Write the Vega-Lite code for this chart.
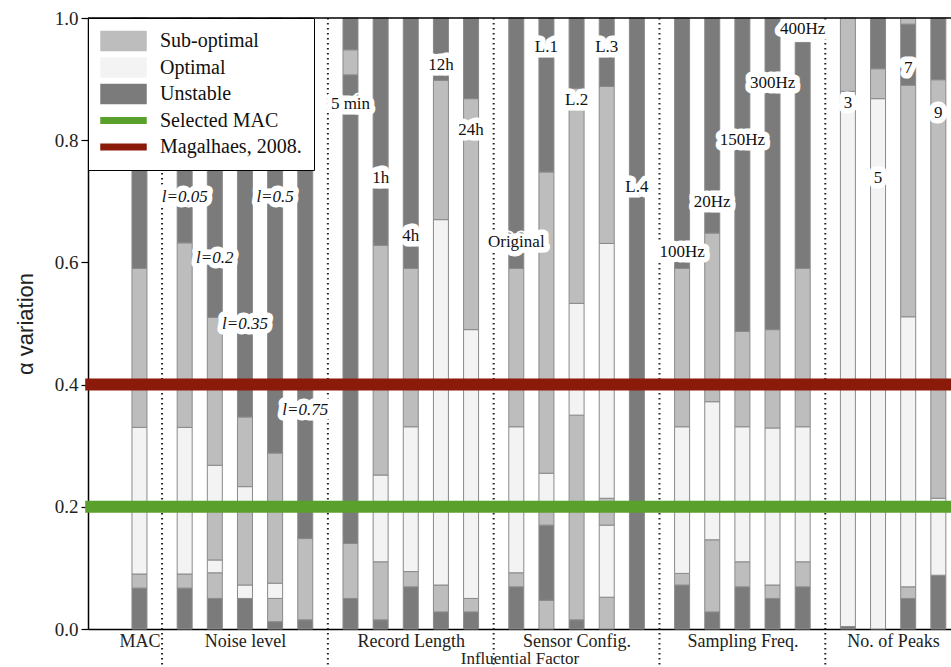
{
  "$schema": "https://vega.github.io/schema/vega-lite/v6.json",
  "width": 863,
  "height": 611,
  "autosize": {"type": "none"},
  "padding": {"left": 88, "top": 18, "right": 0, "bottom": 38},
  "background": "white",
  "config": {"view": {"stroke": null}, "font": "Liberation Serif"},
  "datasets": {
    "bars": [
      {"x": 0, "s": "Unstable", "a": 0, "b": 0.067}, {"x": 0, "s": "Sub-optimal", "a": 0.067, "b": 0.09}, {"x": 0, "s": "Optimal", "a": 0.09, "b": 0.33}, {"x": 0, "s": "Sub-optimal", "a": 0.33, "b": 0.59}, {"x": 0, "s": "Unstable", "a": 0.59, "b": 1.0},
      {"x": 1.5, "s": "Unstable", "a": 0, "b": 0.067}, {"x": 1.5, "s": "Sub-optimal", "a": 0.067, "b": 0.09}, {"x": 1.5, "s": "Optimal", "a": 0.09, "b": 0.33}, {"x": 1.5, "s": "Sub-optimal", "a": 0.33, "b": 0.632}, {"x": 1.5, "s": "Unstable", "a": 0.632, "b": 1.0},
      {"x": 2.5, "s": "Unstable", "a": 0, "b": 0.05}, {"x": 2.5, "s": "Sub-optimal", "a": 0.05, "b": 0.092}, {"x": 2.5, "s": "Optimal", "a": 0.092, "b": 0.113}, {"x": 2.5, "s": "Sub-optimal", "a": 0.113, "b": 0.2}, {"x": 2.5, "s": "Optimal", "a": 0.2, "b": 0.268}, {"x": 2.5, "s": "Sub-optimal", "a": 0.268, "b": 0.51}, {"x": 2.5, "s": "Unstable", "a": 0.51, "b": 1.0},
      {"x": 3.5, "s": "Unstable", "a": 0, "b": 0.05}, {"x": 3.5, "s": "Optimal", "a": 0.05, "b": 0.072}, {"x": 3.5, "s": "Sub-optimal", "a": 0.072, "b": 0.205}, {"x": 3.5, "s": "Optimal", "a": 0.205, "b": 0.233}, {"x": 3.5, "s": "Sub-optimal", "a": 0.233, "b": 0.347}, {"x": 3.5, "s": "Unstable", "a": 0.347, "b": 1.0},
      {"x": 4.5, "s": "Unstable", "a": 0, "b": 0.012}, {"x": 4.5, "s": "Sub-optimal", "a": 0.012, "b": 0.05}, {"x": 4.5, "s": "Optimal", "a": 0.05, "b": 0.075}, {"x": 4.5, "s": "Sub-optimal", "a": 0.075, "b": 0.288}, {"x": 4.5, "s": "Unstable", "a": 0.288, "b": 1.0},
      {"x": 5.5, "s": "Unstable", "a": 0, "b": 0.015}, {"x": 5.5, "s": "Sub-optimal", "a": 0.015, "b": 0.148}, {"x": 5.5, "s": "Unstable", "a": 0.148, "b": 1.0},
      {"x": 7, "s": "Unstable", "a": 0, "b": 0.05}, {"x": 7, "s": "Sub-optimal", "a": 0.05, "b": 0.14}, {"x": 7, "s": "Unstable", "a": 0.14, "b": 0.907}, {"x": 7, "s": "Sub-optimal", "a": 0.907, "b": 0.948}, {"x": 7, "s": "Unstable", "a": 0.948, "b": 1.0},
      {"x": 8, "s": "Unstable", "a": 0, "b": 0.015}, {"x": 8, "s": "Sub-optimal", "a": 0.015, "b": 0.11}, {"x": 8, "s": "Optimal", "a": 0.11, "b": 0.252}, {"x": 8, "s": "Sub-optimal", "a": 0.252, "b": 0.628}, {"x": 8, "s": "Unstable", "a": 0.628, "b": 1.0},
      {"x": 9, "s": "Unstable", "a": 0, "b": 0.069}, {"x": 9, "s": "Sub-optimal", "a": 0.069, "b": 0.094}, {"x": 9, "s": "Optimal", "a": 0.094, "b": 0.331}, {"x": 9, "s": "Sub-optimal", "a": 0.331, "b": 0.59}, {"x": 9, "s": "Unstable", "a": 0.59, "b": 1.0},
      {"x": 10, "s": "Unstable", "a": 0, "b": 0.028}, {"x": 10, "s": "Sub-optimal", "a": 0.028, "b": 0.072}, {"x": 10, "s": "Optimal", "a": 0.072, "b": 0.67}, {"x": 10, "s": "Sub-optimal", "a": 0.67, "b": 0.898}, {"x": 10, "s": "Unstable", "a": 0.898, "b": 1.0},
      {"x": 11, "s": "Unstable", "a": 0, "b": 0.028}, {"x": 11, "s": "Sub-optimal", "a": 0.028, "b": 0.05}, {"x": 11, "s": "Optimal", "a": 0.05, "b": 0.49}, {"x": 11, "s": "Sub-optimal", "a": 0.49, "b": 0.868}, {"x": 11, "s": "Unstable", "a": 0.868, "b": 1.0},
      {"x": 12.5, "s": "Unstable", "a": 0, "b": 0.069}, {"x": 12.5, "s": "Sub-optimal", "a": 0.069, "b": 0.092}, {"x": 12.5, "s": "Optimal", "a": 0.092, "b": 0.331}, {"x": 12.5, "s": "Sub-optimal", "a": 0.331, "b": 0.59}, {"x": 12.5, "s": "Unstable", "a": 0.59, "b": 1.0},
      {"x": 13.5, "s": "Sub-optimal", "a": 0, "b": 0.047}, {"x": 13.5, "s": "Unstable", "a": 0.047, "b": 0.17}, {"x": 13.5, "s": "Sub-optimal", "a": 0.17, "b": 0.2}, {"x": 13.5, "s": "Optimal", "a": 0.2, "b": 0.255}, {"x": 13.5, "s": "Sub-optimal", "a": 0.255, "b": 0.748}, {"x": 13.5, "s": "Unstable", "a": 0.748, "b": 1.0},
      {"x": 14.5, "s": "Unstable", "a": 0, "b": 0.015}, {"x": 14.5, "s": "Sub-optimal", "a": 0.015, "b": 0.35}, {"x": 14.5, "s": "Optimal", "a": 0.35, "b": 0.533}, {"x": 14.5, "s": "Sub-optimal", "a": 0.533, "b": 0.885}, {"x": 14.5, "s": "Unstable", "a": 0.885, "b": 1.0},
      {"x": 15.5, "s": "Sub-optimal", "a": 0, "b": 0.052}, {"x": 15.5, "s": "Optimal", "a": 0.052, "b": 0.17}, {"x": 15.5, "s": "Sub-optimal", "a": 0.17, "b": 0.214}, {"x": 15.5, "s": "Optimal", "a": 0.214, "b": 0.631}, {"x": 15.5, "s": "Sub-optimal", "a": 0.631, "b": 0.888}, {"x": 15.5, "s": "Unstable", "a": 0.888, "b": 1.0},
      {"x": 16.5, "s": "Unstable", "a": 0, "b": 1.0},
      {"x": 18, "s": "Unstable", "a": 0, "b": 0.072}, {"x": 18, "s": "Sub-optimal", "a": 0.072, "b": 0.091}, {"x": 18, "s": "Optimal", "a": 0.091, "b": 0.331}, {"x": 18, "s": "Sub-optimal", "a": 0.331, "b": 0.59}, {"x": 18, "s": "Unstable", "a": 0.59, "b": 1.0},
      {"x": 19, "s": "Unstable", "a": 0, "b": 0.028}, {"x": 19, "s": "Sub-optimal", "a": 0.028, "b": 0.146}, {"x": 19, "s": "Optimal", "a": 0.146, "b": 0.372}, {"x": 19, "s": "Sub-optimal", "a": 0.372, "b": 0.648}, {"x": 19, "s": "Unstable", "a": 0.648, "b": 1.0},
      {"x": 20, "s": "Unstable", "a": 0, "b": 0.069}, {"x": 20, "s": "Sub-optimal", "a": 0.069, "b": 0.11}, {"x": 20, "s": "Optimal", "a": 0.11, "b": 0.331}, {"x": 20, "s": "Sub-optimal", "a": 0.331, "b": 0.487}, {"x": 20, "s": "Unstable", "a": 0.487, "b": 1.0},
      {"x": 21, "s": "Unstable", "a": 0, "b": 0.05}, {"x": 21, "s": "Sub-optimal", "a": 0.05, "b": 0.072}, {"x": 21, "s": "Optimal", "a": 0.072, "b": 0.329}, {"x": 21, "s": "Sub-optimal", "a": 0.329, "b": 0.49}, {"x": 21, "s": "Unstable", "a": 0.49, "b": 1.0},
      {"x": 22, "s": "Unstable", "a": 0, "b": 0.069}, {"x": 22, "s": "Sub-optimal", "a": 0.069, "b": 0.11}, {"x": 22, "s": "Optimal", "a": 0.11, "b": 0.331}, {"x": 22, "s": "Sub-optimal", "a": 0.331, "b": 0.59}, {"x": 22, "s": "Unstable", "a": 0.59, "b": 0.96},
      {"x": 23.5, "s": "Unstable", "a": 0, "b": 0.004}, {"x": 23.5, "s": "Optimal", "a": 0.004, "b": 0.88}, {"x": 23.5, "s": "Sub-optimal", "a": 0.88, "b": 1.0},
      {"x": 24.5, "s": "Optimal", "a": 0, "b": 0.868}, {"x": 24.5, "s": "Sub-optimal", "a": 0.868, "b": 0.917}, {"x": 24.5, "s": "Unstable", "a": 0.917, "b": 1.0},
      {"x": 25.5, "s": "Unstable", "a": 0, "b": 0.05}, {"x": 25.5, "s": "Sub-optimal", "a": 0.05, "b": 0.069}, {"x": 25.5, "s": "Optimal", "a": 0.069, "b": 0.511}, {"x": 25.5, "s": "Sub-optimal", "a": 0.511, "b": 0.89}, {"x": 25.5, "s": "Unstable", "a": 0.89, "b": 0.99}, {"x": 25.5, "s": "Sub-optimal", "a": 0.99, "b": 1.0},
      {"x": 26.5, "s": "Unstable", "a": 0, "b": 0.088}, {"x": 26.5, "s": "Optimal", "a": 0.088, "b": 0.214}, {"x": 26.5, "s": "Sub-optimal", "a": 0.214, "b": 0.899}, {"x": 26.5, "s": "Unstable", "a": 0.899, "b": 1.0}
    ],
    "labels": [
      {"t": "5 min", "x": 7, "y": 0.859}, {"t": "1h", "x": 8, "y": 0.738}, {"t": "4h", "x": 9, "y": 0.643}, {"t": "12h", "x": 10, "y": 0.923}, {"t": "24h", "x": 11, "y": 0.817},
      {"t": "Original", "x": 12.5, "y": 0.633}, {"t": "L.1", "x": 13.5, "y": 0.953}, {"t": "L.2", "x": 14.5, "y": 0.866}, {"t": "L.3", "x": 15.5, "y": 0.953}, {"t": "L.4", "x": 16.5, "y": 0.723},
      {"t": "100Hz", "x": 18, "y": 0.617}, {"t": "20Hz", "x": 19, "y": 0.699}, {"t": "150Hz", "x": 20, "y": 0.8}, {"t": "300Hz", "x": 21, "y": 0.894}, {"t": "400Hz", "x": 22, "y": 0.982},
      {"t": "3", "x": 23.5, "y": 0.861}, {"t": "5", "x": 24.5, "y": 0.738}, {"t": "7", "x": 25.5, "y": 0.918}, {"t": "9", "x": 26.5, "y": 0.845}
    ],
    "noise": [
      {"t": "l=0.05", "x": 1.5, "y": 0.707}, {"t": "l=0.2", "x": 2.5, "y": 0.607}, {"t": "l=0.35", "x": 3.5, "y": 0.499}, {"t": "l=0.5", "x": 4.5, "y": 0.707}, {"t": "l=0.75", "x": 5.5, "y": 0.358}
    ],
    "seps": [{"x": 0.75}, {"x": 6.25}, {"x": 11.75}, {"x": 17.25}, {"x": 22.75}],
    "lines": [{"s": "Selected MAC", "v": 0.2}, {"s": "Magalhaes, 2008.", "v": 0.4}]
  },
  "layer": [
    {
      "data": {"name": "bars"},
      "mark": {"type": "bar", "size": 15, "stroke": "#8a8a8a", "strokeWidth": 1},
      "encoding": {
        "x": {
          "field": "x", "type": "quantitative",
          "scale": {"domain": [-1.541, 26.754], "nice": false, "zero": false},
          "axis": {
            "values": [0, 3.5, 9, 14.5, 20, 25],
            "labelExpr": "datum.value==0?'MAC':datum.value==3.5?'Noise level':datum.value==9?'Record Length':datum.value==14.5?'Sensor Config.':datum.value==20?'Sampling Freq.':'No. of Peaks'",
            "ticks": false, "grid": false, "domainColor": "black", "domainWidth": 1.5,
            "labelFont": "Liberation Serif", "labelFontSize": 18, "labelColor": "#222", "labelPadding": 3,
            "labelFlush": false, "labelOverlap": false,
            "title": "Influential Factor", "titleFont": "Liberation Serif", "titleFontSize": 17,
            "titleFontWeight": "normal", "titleColor": "#222", "titlePadding": 0
          }
        },
        "y": {
          "field": "a", "type": "quantitative",
          "scale": {"domain": [0, 1], "nice": false, "zero": false},
          "axis": {
            "values": [0, 0.2, 0.4, 0.6, 0.8, 1], "format": ".1f",
            "tickSize": 7, "tickColor": "black", "tickWidth": 1.2,
            "domainColor": "black", "domainWidth": 1.5, "grid": false,
            "labelFont": "Liberation Serif", "labelFontSize": 19, "labelColor": "#222", "labelPadding": 3, "labelFlush": false,
            "title": "α variation", "titleFont": "Liberation Sans", "titleFontSize": 22,
            "titleFontWeight": "normal", "titleColor": "#222", "titlePadding": 17
          }
        },
        "y2": {"field": "b"},
        "color": {
          "field": "s", "type": "nominal",
          "scale": {
            "domain": ["Sub-optimal", "Optimal", "Unstable", "Selected MAC", "Magalhaes, 2008."],
            "range": ["#bdbdbd", "#f3f3f3", "#7b7b7b", "#5aa02c", "#8b1a0a"]
          },
          "legend": {
            "title": null, "orient": "top-left", "offset": 0, "padding": 12,
            "fillColor": "white", "strokeColor": "black",
            "labelFont": "Liberation Serif", "labelFontSize": 20, "labelColor": "#111",
            "labelOffset": 13, "symbolSize": 2025, "clipHeight": 22, "rowPadding": 4.5,
            "symbolOpacity": 1,
            "symbolType": {"expr": "datum.index >= 3 ? 'M-1,-0.12H1V0.12H-1Z' : 'M-1,-0.42H1V0.42H-1Z'"}
          }
        }
      }
    },
    {
      "data": {"name": "seps"},
      "mark": {"type": "rule", "strokeDash": [1.6, 3.4], "strokeWidth": 2, "color": "#222"},
      "encoding": {
        "x": {"field": "x", "type": "quantitative"},
        "y": {"datum": 1},
        "y2": {"datum": -0.065}
      }
    },
    {
      "data": {"name": "labels"},
      "mark": {"type": "text", "font": "Liberation Serif", "fontSize": 17, "align": "center", "baseline": "middle", "stroke": "white", "strokeWidth": 11, "strokeJoin": "round", "fill": "white"},
      "encoding": {"x": {"field": "x", "type": "quantitative"}, "y": {"field": "y", "type": "quantitative"}, "text": {"field": "t"}}
    },
    {
      "data": {"name": "labels"},
      "mark": {"type": "text", "font": "Liberation Serif", "fontSize": 17, "align": "center", "baseline": "middle", "fill": "#111"},
      "encoding": {"x": {"field": "x", "type": "quantitative"}, "y": {"field": "y", "type": "quantitative"}, "text": {"field": "t"}}
    },
    {
      "data": {"name": "noise"},
      "mark": {"type": "text", "font": "Liberation Serif", "fontSize": 17, "fontStyle": "italic", "align": "center", "baseline": "middle", "stroke": "white", "strokeWidth": 11, "strokeJoin": "round", "fill": "white"},
      "encoding": {"x": {"field": "x", "type": "quantitative"}, "y": {"field": "y", "type": "quantitative"}, "text": {"field": "t"}}
    },
    {
      "data": {"name": "noise"},
      "mark": {"type": "text", "font": "Liberation Serif", "fontSize": 17, "fontStyle": "italic", "align": "center", "baseline": "middle", "fill": "#111"},
      "encoding": {"x": {"field": "x", "type": "quantitative"}, "y": {"field": "y", "type": "quantitative"}, "text": {"field": "t"}}
    },
    {
      "data": {"name": "lines"},
      "mark": {"type": "rule", "strokeWidth": 12},
      "encoding": {
        "y": {"field": "v", "type": "quantitative"},
        "x": {"datum": -1.8, "type": "quantitative"},
        "x2": {"datum": 27},
        "color": {"field": "s", "type": "nominal", "legend": null}
      }
    },
    {
      "data": {"values": [{"v": 1}]},
      "mark": {"type": "rule", "strokeWidth": 1.5, "color": "black"},
      "encoding": {"y": {"field": "v", "type": "quantitative"}}
    }
  ]
}
